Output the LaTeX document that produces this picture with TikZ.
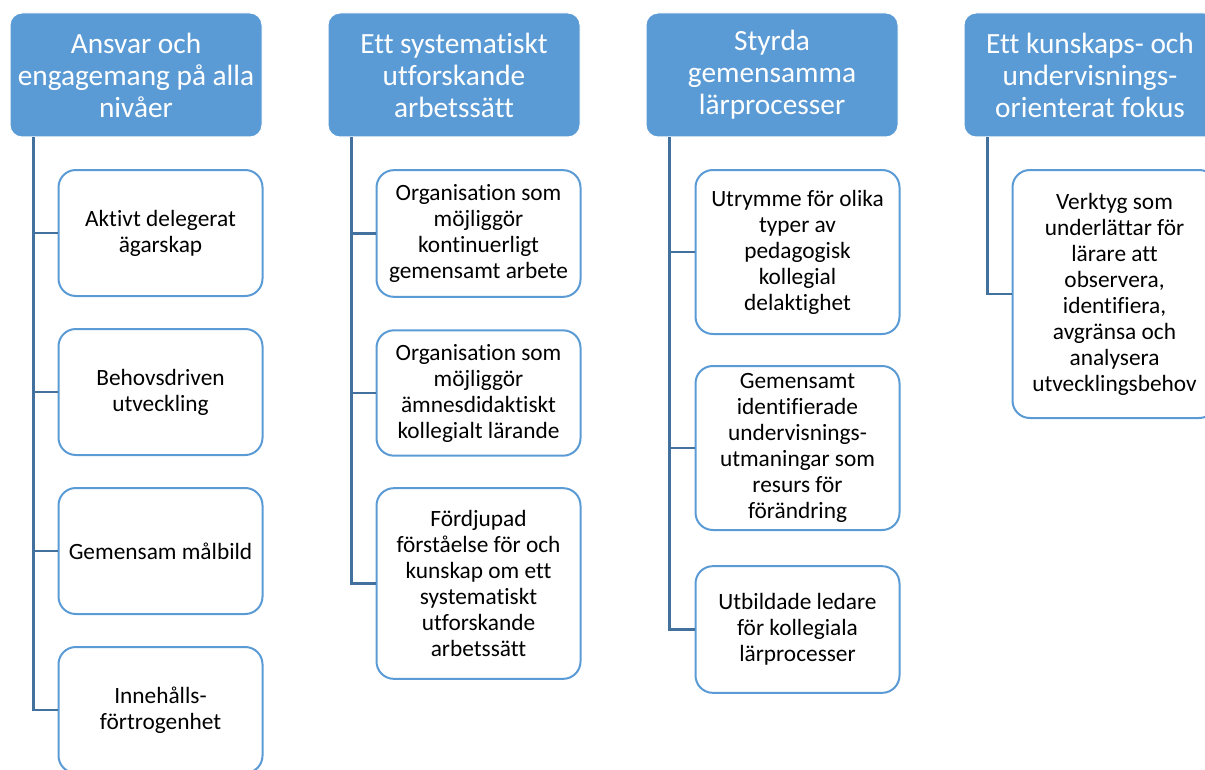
\documentclass[tikz,border=0pt]{standalone}
\usepackage{fontspec}
\setmainfont{Carlito}[Ligatures=NoCommon]
\usetikzlibrary{positioning}

\definecolor{headblue}{HTML}{5B9BD5}
\definecolor{linkblue}{HTML}{41719C}

\begin{document}
\begin{tikzpicture}[x=0.75pt,y=-0.75pt,
    head/.style={rectangle, rounded corners=9pt, fill=headblue, draw=white, line width=0.75pt,
        minimum width=189pt, minimum height=93pt, align=center, text=white,
        font=\fontsize{22}{24}\selectfont},
    item/.style={rectangle, rounded corners=13pt, fill=white, draw=headblue, line width=1.5pt,
        minimum width=153pt, align=center, inner sep=2pt,
        font=\fontsize{17.5}{19.5}\selectfont},
    link/.style={draw=linkblue, line width=1.8pt}]
    \clip (0,0) rectangle (1205,770);

    % header boxes
    \node[head] (H1) at (136,75) {Ansvar och\\engagemang på alla\\nivåer};
    \node[head] (H2) at (454,75) {Ett systematiskt\\utforskande\\arbetssätt};
    \node[head] (H3) at (772,75) {Styrda\\gemensamma\\lärprocesser};
    \node[head] (H4) at (1090,75) {Ett kunskaps- och\\undervisnings-\\orienterat fokus};

    % first column
    \node[item, minimum height=94.5pt] (A1) at (160.5,233) {Aktivt delegerat\\ägarskap};
    \node[item, minimum height=94.5pt] (A2) at (160.5,392) {Behovsdriven\\utveckling};
    \node[item, minimum height=94.5pt] (A3) at (160.5,551) {Gemensam målbild};
    \node[item, minimum height=94.5pt] (A4) at (160.5,710) {Innehålls-\\förtrogenhet};

    % second column
    \node[item, minimum height=95pt] (B1) at (478.5,233.5) {Organisation som\\möjliggör\\kontinuerligt\\gemensamt arbete};
    \node[item, minimum height=94pt] (B2) at (478.5,393) {Organisation som\\möjliggör\\ämnesdidaktiskt\\kollegialt lärande};
    \node[item, minimum height=143pt] (B3) at (478.5,583.5) {Fördjupad\\förståelse för och\\kunskap om ett\\systematiskt\\utforskande\\arbetssätt};

    % third column
    \node[item, minimum height=123pt] (C1) at (797.5,252) {Utrymme för olika\\typer av\\pedagogisk\\kollegial\\delaktighet};
    \node[item, minimum height=123pt] (C2) at (797.5,448) {Gemensamt\\identifierade\\undervisnings-\\utmaningar som\\resurs för\\förändring};
    \node[item, minimum height=95pt] (C3) at (797.5,629.5) {Utbildade ledare\\för kollegiala\\lärprocesser};

    % fourth column
    \node[item, minimum height=186pt] (D1) at (1114.5,294) {Verktyg som\\underlättar för\\lärare att\\observera,\\identifiera,\\avgränsa och\\analysera\\utvecklingsbehov};

    % connectors
    \foreach \c in {A1,A2,A3,A4}
        \draw[link] ([xshift=18pt]H1.south west) |- (\c.west);
    \foreach \c in {B1,B2,B3}
        \draw[link] ([xshift=18pt]H2.south west) |- (\c.west);
    \foreach \c in {C1,C2,C3}
        \draw[link] ([xshift=18pt]H3.south west) |- (\c.west);
    \draw[link] ([xshift=18pt]H4.south west) |- (D1.west);
\end{tikzpicture}
\end{document}
